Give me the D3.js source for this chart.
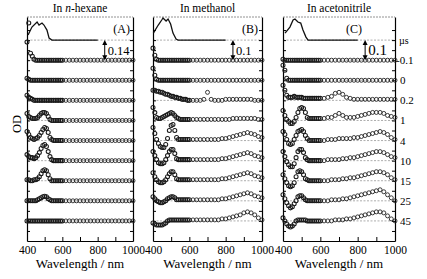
<!DOCTYPE html>
<html>
<head>
<meta charset="utf-8">
<script src="https://cdn.jsdelivr.net/npm/d3@7"></script>
<style>
  body { margin: 0; background: #fff; }
  svg { display: block; font-family: "Liberation Serif", "Times New Roman", serif; }
</style>
</head>
<body>
<div id="chart"></div>
<script>
// wavelength grid of the transient spectra (nm): fine part then coarse part
const wavelengths = [400, 410, 420, 430, 440, 450, 460, 470, 480, 490, 500, 510, 520, 530, 540, 550, 560, 570, 580, 590, 600,
    620, 640, 660, 680, 700, 720, 740, 760, 780, 800, 820, 840, 860, 880, 900, 920, 940, 960, 980, 1000];

// delay times (µs), top row first
const delays = ['-0.1', '0', '0.2', '1', '4', '10', '15', '25', '45'];

const xTicks = [400, 500, 600, 700, 800, 900, 1000];
const xTickLabels = [400, 600, 800, 1000];

// ground state absorption (in row units above the top dashed line)
const hexaneGsWl = [406, 428, 457, 468, 485, 496, 513, 525, 541, 800];
const hexaneGsAbs = [0.25, 0.65, 0.9, 0.75, 0.85, 0.75, 0.5, 0.1, 0, 0];
const methanolGsWl = [402, 429, 448, 455, 472, 483, 497, 510, 527, 538, 800];
const methanolGsAbs = [0.35, 0.75, 1.0, 1.1, 0.95, 1.05, 0.8, 0.35, 0.05, 0, 0];
const acetonitrileGsWl = [411, 437, 454, 464, 480, 495, 507, 523, 534, 800];
const acetonitrileGsAbs = [0.35, 0.65, 1.0, 1.05, 0.9, 0.85, 0.5, 0.15, 0, 0];

// transient absorption, ΔOD x 10^-3, one array per delay
const hexaneDOD = [
    [126, 259, 49, 28, 7, 0, 0, 0, 0, 0, 0, 0, 0, 0, 0, 0, 0, 0, 0, 0, 0, 0, 0, 0, 0, 0, 0, 0, 0, 0, 0, 0, 0, 0, 0, 0, 0, 0, 0, 0, 0],
    [14, 7, 0, 0, 0, 0, 0, 0, 0, 0, 0, 0, 0, 0, 0, 0, 0, 0, 0, 0, 0, 0, 0, 0, 0, 0, 0, 0, 0, 0, 0, 0, 0, 0, 0, 0, 0, 0, 0, 0, 0],
    [35, 21, 14, 7, 0, 0, 0, 0, 0, 0, 0, 0, 0, 0, 0, 0, 0, 0, 0, 0, 0, 0, 0, 0, 0, 0, 0, 0, 0, 0, 0, 0, 0, 0, 0, 0, 0, 0, 0, 0, 0],
    [49, 28, 21, 14, 14, 14, 21, 35, 49, 56, 56, 49, 28, 7, 0, 0, 0, 0, 0, 0, 0, 0, 0, 0, 0, 0, 0, 0, 0, 0, 0, 0, 0, 0, 0, 0, 0, 0, 0, 0, 0],
    [63, 42, 21, 14, 7, 14, 21, 35, 56, 77, 91, 84, 56, 21, 7, 0, 0, 0, 0, 0, 0, 0, 0, 0, 0, 0, 0, 0, 0, 0, 0, 0, 0, 0, 0, 0, 0, 0, 0, 0, 0],
    [42, 28, 21, 21, 14, 21, 35, 56, 84, 105, 112, 98, 63, 28, 7, 0, 0, 0, 0, 0, 0, 0, 0, 0, 0, 0, 0, 0, 0, 0, 0, 0, 0, 0, 0, 0, 0, 0, 0, 0, 0],
    [7, 7, 0, 0, 7, 7, 14, 28, 49, 70, 77, 70, 42, 14, 0, 0, 0, 0, 0, 0, 0, 0, 0, 0, 0, 0, 0, 0, 0, 0, 0, 0, 0, 0, 0, 0, 0, 0, 0, 0, 0],
    [0, 0, 0, 0, 0, 0, 7, 14, 21, 28, 32, 28, 14, 7, 0, 0, 0, 0, 0, 0, 0, 0, 0, 0, 0, 0, 0, 0, 0, 0, 0, 0, 0, 0, 0, 0, 0, 0, 0, 0, 0],
    [0, 0, 0, 0, 0, 0, 0, 0, 0, 0, 0, 0, 0, 0, 0, 0, 0, 0, 0, 0, 0, 0, 0, 0, 0, 0, 0, 0, 0, 0, 0, 0, 0, 0, 0, 0, 0, 0, 0, 0, 0]
];

const methanolDOD = [
    [60, 25, 5, 0, 0, 0, 0, 0, 0, 0, 0, 0, 0, 0, 0, 0, 0, 0, 0, 0, 0, 0, 0, 0, 0, 0, 0, 0, 0, 0, 0, 0, 0, 0, 0, 0, 0, 0, 0, 0, 0],
    [60, 25, 5, 0, 0, 0, 0, 0, 0, 0, 0, 0, 0, 0, 0, 0, 0, 0, 0, 0, 0, 0, 0, 0, 0, 0, 0, 0, 0, 0, 0, 0, 0, 0, 0, 0, 0, 0, 0, 0, 0],
    [50, 50, 45, 45, 40, 40, 35, 30, 30, 25, 20, 20, 15, 15, 10, 10, 5, 5, 5, 0, 0, 0, 0, 0, 5, 40, 5, 0, 0, 0, 5, 5, 5, 5, 5, 5, 5, 5, 0, 0, 0],
    [65, 40, 15, 10, 10, 15, 20, 25, 30, 35, 40, 35, 25, 15, 10, 5, 5, 5, 5, 5, 5, 5, 5, 5, 5, 5, 5, 5, 5, 5, 5, 5, 10, 10, 10, 10, 10, 10, 10, 5, 5],
    [65, 35, 5, -15, -30, -35, -35, -20, 10, 50, 75, 80, 50, 15, 5, 5, 5, 5, 5, 5, 5, 5, 5, 5, 5, 5, 5, 5, 5, 10, 10, 15, 20, 25, 30, 35, 40, 35, 30, 20, 15],
    [45, 25, 5, -10, -15, -15, -10, 5, 25, 45, 55, 55, 35, 10, 5, 5, 5, 5, 5, 5, 5, 5, 5, 5, 5, 5, 5, 5, 5, 10, 10, 15, 20, 25, 30, 35, 40, 35, 25, 20, 15],
    [40, 20, 5, -5, -10, -10, -5, 5, 20, 35, 45, 45, 30, 10, 5, 5, 5, 5, 5, 5, 5, 5, 5, 5, 5, 5, 5, 5, 5, 10, 10, 15, 20, 25, 30, 35, 40, 35, 25, 20, 15],
    [20, 10, 0, -5, -10, -10, -5, 0, 10, 15, 20, 20, 15, 5, 5, 5, 5, 5, 5, 5, 5, 5, 5, 5, 5, 5, 5, 5, 5, 10, 10, 15, 20, 25, 30, 35, 40, 35, 25, 20, 15],
    [-10, -15, -20, -20, -20, -20, -15, -10, 0, 5, 5, 5, 5, 5, 5, 5, 5, 5, 5, 5, 5, 5, 5, 5, 5, 5, 5, 5, 5, 10, 10, 15, 20, 25, 30, 40, 45, 40, 30, 15, 5]
];

const acetonitrileDOD = [
    [5, 0, 0, 0, 0, 0, 0, 0, 0, 0, 0, 0, 0, 0, 0, 0, 0, 0, 0, 0, 0, 0, 0, 0, 0, 0, 0, 0, 0, 0, 0, 0, 0, 0, 0, 0, 0, 0, 0, 0, 0],
    [75, 50, 10, 0, 0, 0, 0, 0, 0, 0, 0, 0, 0, 0, 0, 0, 0, 0, 0, 0, 0, 0, 0, 0, 0, 0, 0, 0, 0, 0, 0, 0, 0, 0, 0, 0, 0, 0, 0, 0, 0],
    [75, 50, 25, 15, 15, 15, 20, 15, 15, 15, 15, 10, 10, 10, 10, 10, 10, 10, 10, 10, 10, 10, 15, 20, 35, 40, 30, 15, 10, 5, 5, 5, 5, 5, 5, 5, 5, 5, 5, 5, 5],
    [50, 25, 5, -5, -15, -15, -5, 15, 40, 60, 65, 60, 40, 15, 10, 10, 10, 10, 10, 10, 10, 10, 15, 15, 25, 35, 25, 15, 15, 15, 20, 25, 30, 35, 40, 40, 40, 35, 25, 20, 15],
    [45, 30, 5, -15, -20, -15, 5, 25, 45, 50, 55, 45, 25, 10, 0, 0, 0, 0, 0, 0, 0, 0, 5, 5, 5, 10, 10, 10, 10, 15, 15, 20, 25, 30, 35, 40, 45, 40, 30, 15, 5],
    [45, 20, -5, -20, -30, -30, -15, 15, 45, 55, 55, 40, 15, 5, 0, 0, 0, 0, 0, 0, 0, 0, 5, 5, 5, 5, 10, 10, 15, 15, 20, 25, 30, 35, 40, 45, 45, 40, 30, 20, 15],
    [30, 10, -10, -25, -30, -25, -10, 20, 45, 50, 45, 30, 10, 5, 0, 0, 0, 0, 0, 0, 0, 0, 0, 5, 5, 5, 10, 10, 15, 15, 20, 25, 30, 35, 40, 45, 45, 40, 30, 15, 5],
    [30, 10, -10, -25, -35, -30, -15, 0, 20, 25, 25, 15, 5, 0, 0, 0, 0, 0, 0, 0, 0, 0, 0, 5, 5, 5, 10, 10, 15, 20, 25, 30, 35, 40, 45, 50, 55, 45, 30, 15, 0],
    [15, 0, -15, -25, -30, -25, -15, 0, 5, 5, 5, 5, 5, 0, 0, 0, 0, 0, 0, 0, 0, 0, 0, 0, 5, 5, 5, 10, 10, 15, 20, 25, 30, 35, 40, 45, 45, 40, 25, 10, 0]
];

const panels = [
    { title: ['In ', 'n', '-hexane'], tag: '(A)', scaleText: '0.14', odPerRow: 0.14,
      gsWl: hexaneGsWl, gsAbs: hexaneGsAbs, rows: hexaneDOD, x0: 27, x1: 133, tagX: 130, scaleSize: 12.5 },
    { title: ['In methanol'], tag: '(B)', scaleText: '0.1', odPerRow: 0.1,
      gsWl: methanolGsWl, gsAbs: methanolGsAbs, rows: methanolDOD, x0: 153, x1: 262, tagX: 258, scaleSize: 12.5 },
    { title: ['In acetonitrile'], tag: '(C)', scaleText: '0.1', odPerRow: 0.1,
      gsWl: acetonitrileGsWl, gsAbs: acetonitrileGsAbs, rows: acetonitrileDOD, x0: 283, x1: 395, tagX: 362, scaleSize: 15 }
];

const W = 427, H = 279;
const plotTop = 17, plotBottom = 241;

const svg = d3.select('#chart').append('svg')
    .attr('width', W)
    .attr('height', H);

// one vertical scale in "row units": row k sits k units above the bottom
const y = d3.scaleLinear().domain([0, 11.15]).range([plotBottom, plotTop]);
const nRows = delays.length;
const halfSteps = d3.range(1, 22).map(d => d / 2);

panels.forEach((p, pi) => {
    const x = d3.scaleLinear().domain([400, 1000]).range([p.x0, p.x1]);
    const g = svg.append('g');

    // dashed baselines (ground state + each delay)
    g.selectAll('.base')
        .data(d3.range(1, nRows + 2))
        .enter()
        .append('line')
        .attr('x1', p.x0)
        .attr('x2', p.x1)
        .attr('y1', d => y(d))
        .attr('y2', d => y(d))
        .attr('stroke', '#8a8a8a')
        .attr('stroke-width', 0.7)
        .attr('stroke-dasharray', '2,1.5');

    // top edge drawn light and dashed, like the original
    g.append('line')
        .attr('x1', p.x0).attr('x2', p.x1)
        .attr('y1', plotTop).attr('y2', plotTop)
        .attr('stroke', '#777')
        .attr('stroke-width', 0.8)
        .attr('stroke-dasharray', '2,1');

    // axes
    g.append('g')
        .attr('transform', `translate(0,${plotBottom})`)
        .call(d3.axisBottom(x).tickValues(xTicks).tickSizeInner(-4).tickSizeOuter(0)
            .tickFormat(d => xTickLabels.includes(d) ? d : ''))
        .call(a => a.select('.domain').attr('stroke-width', 1.2))
        .call(a => a.selectAll('text')
            .attr('font-size', '11.5px')
            .attr('font-family', '"Liberation Serif", serif')
            .attr('dy', '0.9em')
            .attr('fill', '#000'));

    g.append('g')
        .attr('transform', `translate(${p.x0},0)`)
        .call(d3.axisLeft(y).tickValues(halfSteps).tickSizeInner(-3).tickSizeOuter(0).tickFormat(''))
        .call(a => a.select('.domain').attr('stroke-width', 1.2));

    g.append('g')
        .attr('transform', `translate(${p.x1},0)`)
        .call(d3.axisRight(y).tickValues(halfSteps).tickSizeInner(-3).tickSizeOuter(0).tickFormat(''))
        .call(a => a.select('.domain').attr('stroke-width', 1.2));

    // ground state spectrum
    const gsLine = d3.line()
        .x((d, i) => x(p.gsWl[i]))
        .y(d => y(nRows + 1 + d));
    g.append('path')
        .datum(p.gsAbs)
        .attr('d', gsLine)
        .attr('fill', 'none')
        .attr('stroke', '#111')
        .attr('stroke-width', 1.3);

    // transient spectra as open circles (fine grid drawn a bit heavier)
    p.rows.forEach((row, ri) => {
        const offset = nRows - ri;
        g.selectAll(`.pt-${pi}-${ri}`)
            .data(row)
            .enter()
            .append('circle')
            .attr('class', `pt-${pi}-${ri}`)
            .attr('cx', (d, i) => x(wavelengths[i]))
            .attr('cy', d => y(offset + d / 1000 / p.odPerRow))
            .attr('r', 2)
            .attr('fill', 'none')
            .attr('stroke', '#1a1a1a')
            .attr('stroke-width', (d, i) => wavelengths[i] <= 600 ? 1.05 : 0.85);
    });

    // scale arrow between ground state line and first delay line
    const ax = x(840);
    const yTop = y(nRows + 1), yBot = y(nRows);
    g.append('line')
        .attr('x1', ax).attr('x2', ax)
        .attr('y1', yTop + 3).attr('y2', yBot - 3)
        .attr('stroke', '#000')
        .attr('stroke-width', 1);
    g.append('path')
        .attr('d', `M${ax},${yTop} L${ax - 2.5},${yTop + 5} L${ax + 2.5},${yTop + 5} Z`)
        .attr('fill', '#000');
    g.append('path')
        .attr('d', `M${ax},${yBot} L${ax - 2.5},${yBot - 5} L${ax + 2.5},${yBot - 5} Z`)
        .attr('fill', '#000');
    g.append('text')
        .attr('x', ax + 3)
        .attr('y', (yTop + yBot) / 2 + 4.5)
        .attr('font-size', p.scaleSize + 'px')
        .text(p.scaleText);

    // panel tag
    g.append('text')
        .attr('x', p.tagX)
        .attr('y', 33)
        .attr('text-anchor', 'end')
        .attr('font-size', '12px')
        .text(p.tag);

    // title
    const t = g.append('text')
        .attr('x', (p.x0 + p.x1) / 2)
        .attr('y', 12)
        .attr('text-anchor', 'middle')
        .attr('font-size', '11.5px');
    p.title.forEach((s, i) => {
        t.append('tspan')
            .attr('font-style', s === 'n' ? 'italic' : 'normal')
            .text(s);
    });

    // x axis label
    g.append('text')
        .attr('x', (p.x0 + p.x1) / 2)
        .attr('y', 268)
        .attr('text-anchor', 'middle')
        .attr('font-size', '13px')
        .text('Wavelength / nm');
});

// delay labels on the right of the last panel
const last = panels[panels.length - 1];
svg.append('text')
    .attr('x', last.x1 + 4)
    .attr('y', y(nRows + 1) + 3.5)
    .attr('font-size', '10px')
    .text('µs');
svg.selectAll('.delay')
    .data(delays)
    .enter()
    .append('text')
    .attr('class', 'delay')
    .attr('x', (d, i) => last.x1 + (d.startsWith('-') ? 1 : 5))
    .attr('y', (d, i) => y(nRows - i) + 4)
    .attr('font-size', '11px')
    .text(d => d);

// y axis label
svg.append('text')
    .attr('transform', 'rotate(-90)')
    .attr('x', -124)
    .attr('y', 21)
    .attr('text-anchor', 'middle')
    .attr('font-size', '12.5px')
    .text('OD');
</script>
</body>
</html>
